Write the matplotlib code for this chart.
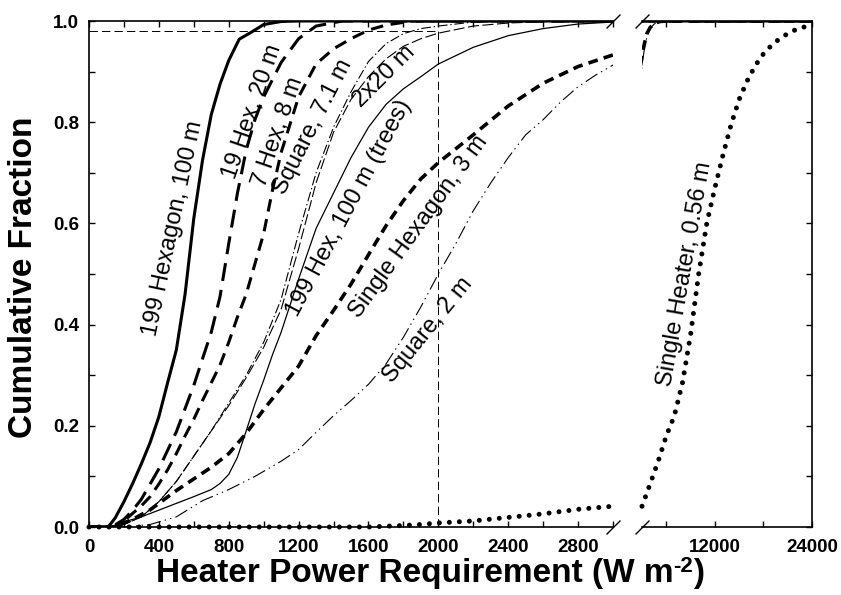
import matplotlib
matplotlib.use("Agg")
import matplotlib.pyplot as plt
from matplotlib.ticker import FixedLocator, MultipleLocator
import numpy as np

plt.rcParams['font.family'] = ['Liberation Sans', 'DejaVu Sans']
plt.rcParams['lines.scale_dashes'] = False

# cumulative distributions of heater power (W m-2)
hex199_x = [0, 110, 150, 200, 250, 300, 350, 400, 450, 500, 550, 600, 650, 700, 750, 800, 860, 930, 1000, 1100, 1200, 24000]
hex199_y = [0, 0, 0.018, 0.05, 0.086, 0.125, 0.167, 0.218, 0.285, 0.35, 0.46, 0.61, 0.725, 0.815, 0.875, 0.922, 0.964, 0.978, 0.993, 0.999, 1.0, 1.0]

hex19_x = [0, 130, 200, 250, 300, 400, 500, 600, 700, 750, 800, 850, 900, 950, 1000, 1100, 1200, 1300, 1450, 24000]
hex19_y = [0, 0, 0.015, 0.033, 0.055, 0.115, 0.188, 0.28, 0.385, 0.455, 0.56, 0.66, 0.745, 0.805, 0.85, 0.918, 0.965, 0.99, 1.0, 1.0]

hex7_x = [0, 140, 200, 250, 300, 350, 400, 450, 500, 550, 600, 650, 700, 750, 800, 850, 900, 950, 1000, 1050, 1100, 1200, 1300, 1400, 1500, 1600, 1700, 1850, 24000]
hex7_y = [0, 0, 0.012, 0.027, 0.042, 0.06, 0.085, 0.113, 0.145, 0.18, 0.213, 0.25, 0.285, 0.32, 0.365, 0.415, 0.46, 0.52, 0.58, 0.665, 0.74, 0.85, 0.915, 0.945, 0.965, 0.982, 0.992, 1.0, 1.0]

sq71_x = [0, 150, 200, 300, 400, 500, 600, 700, 800, 900, 1000, 1100, 1200, 1300, 1400, 1500, 1600, 1700, 1800, 1900, 2000, 2200, 2500, 24000]
sq71_y = [0, 0, 0.005, 0.02, 0.05, 0.09, 0.14, 0.19, 0.245, 0.3, 0.365, 0.45, 0.58, 0.7, 0.79, 0.86, 0.92, 0.955, 0.975, 0.985, 0.99, 0.998, 1.0, 1.0]

two20_x = [0, 150, 200, 300, 400, 500, 600, 700, 800, 900, 1000, 1100, 1200, 1300, 1400, 1500, 1600, 1700, 1800, 1900, 2000, 2200, 2400, 2700, 24000]
two20_y = [0, 0, 0.005, 0.02, 0.05, 0.09, 0.14, 0.19, 0.24, 0.295, 0.355, 0.43, 0.55, 0.68, 0.78, 0.845, 0.89, 0.925, 0.95, 0.965, 0.976, 0.99, 0.996, 1.0, 1.0]

trees_x = [0, 130, 200, 300, 450, 600, 700, 750, 800, 850, 900, 950, 1000, 1050, 1100, 1200, 1300, 1400, 1500, 1600, 1700, 1800, 1900, 2000, 2200, 2400, 2600, 2800, 3000, 3400, 24000]
trees_y = [0, 0, 0.01, 0.02, 0.04, 0.06, 0.074, 0.086, 0.104, 0.138, 0.19, 0.243, 0.29, 0.34, 0.385, 0.49, 0.59, 0.66, 0.73, 0.79, 0.835, 0.866, 0.89, 0.915, 0.948, 0.971, 0.985, 0.994, 0.998, 1.0, 1.0]

hex1_x = [0, 140, 250, 350, 500, 600, 700, 800, 900, 1000, 1100, 1200, 1300, 1400, 1500, 1600, 1700, 1800, 1900, 2000, 2200, 2400, 2600, 2800, 3000, 3300, 3600, 4000, 4500, 5200, 6000, 24000]
hex1_y = [0, 0, 0.015, 0.034, 0.072, 0.095, 0.118, 0.145, 0.185, 0.232, 0.275, 0.318, 0.378, 0.428, 0.48, 0.538, 0.595, 0.645, 0.688, 0.72, 0.775, 0.832, 0.877, 0.91, 0.933, 0.955, 0.975, 0.987, 0.995, 0.999, 1.0, 1.0]

sq2_x = [0, 200, 350, 500, 650, 800, 950, 1100, 1200, 1300, 1400, 1500, 1600, 1700, 1800, 1900, 2000, 2100, 2200, 2300, 2400, 2500, 2600, 2700, 2800, 2900, 3000, 3300, 3600, 4000, 4500, 5000, 5500, 24000]
sq2_y = [0, 0, 0.005, 0.02, 0.052, 0.074, 0.1, 0.13, 0.153, 0.187, 0.22, 0.25, 0.282, 0.322, 0.375, 0.435, 0.5, 0.56, 0.625, 0.68, 0.73, 0.775, 0.805, 0.84, 0.87, 0.893, 0.913, 0.945, 0.968, 0.985, 0.994, 0.998, 1.0, 1.0]

heater_x = np.array([0, 1600, 1800, 1900, 2000, 2200, 2400, 2600, 2800, 3000, 4000, 5000, 6000, 7000, 8000, 9000, 10000, 11000, 12000, 13000, 14000, 15000, 16000, 17000, 18000, 19000, 20000, 21000, 22000, 23000, 24000])
heater_y = np.array([0, 0, 0.003, 0.005, 0.008, 0.012, 0.019, 0.026, 0.035, 0.041, 0.085, 0.13, 0.18, 0.22, 0.285, 0.38, 0.5, 0.6, 0.67, 0.735, 0.795, 0.845, 0.882, 0.912, 0.935, 0.952, 0.965, 0.975, 0.983, 0.988, 0.992])

# label text, centre (data units of left axes), rotation
labels = [
    ("199 Hexagon, 100 m", 480, 0.59, 78),
    ("19 Hex, 20 m", 935, 0.82, 71),
    ("7 Hex, 8 m", 1085, 0.78, 71),
    ("Square, 7.1 m", 1280, 0.79, 63),
    ("2x20 m", 1690, 0.89, 45),
    ("199 Hex, 100 m (trees)", 1490, 0.63, 62),
    ("Single Hexagon, 3 m", 1890, 0.593, 54),
    ("Square, 2 m", 1940, 0.39, 51),
]
heater_label = ("Single Heater, 0.56 m", 8300, 0.50, 80)

styles = [
    (hex199_x, hex199_y, dict(color='black', lw=2.2, ls='-')),
    (hex19_x, hex19_y, dict(color='black', lw=2.2, ls=(0, (13, 6.5)))),
    (hex7_x, hex7_y, dict(color='black', lw=2.2, ls=(0, (9, 5.5)))),
    (sq71_x, sq71_y, dict(color='black', lw=0.8, ls=(0, (7, 2, 1, 2)))),
    (two20_x, two20_y, dict(color='black', lw=0.8, ls=(0, (8, 2.5)))),
    (trees_x, trees_y, dict(color='black', lw=0.9, ls='-')),
    (hex1_x, hex1_y, dict(color='black', lw=2.6, ls=(0, (7, 4.5)))),
    (sq2_x, sq2_y, dict(color='black', lw=0.8, ls=(0, (10, 3, 1, 3, 1, 3)))),
]
dot_style = dict(color='black', lw=3.6, ls=(0, (0.01, 7.2)), dash_capstyle='round')

fig = plt.figure(figsize=(8.41, 5.95), dpi=100)
ax1 = fig.add_axes([89 / 841, 68 / 595, 524 / 841, 506 / 595])
ax2 = fig.add_axes([642 / 841, 68 / 595, 170 / 841, 506 / 595])

for ax in (ax1, ax2):
    for x, y, st in styles:
        ax.plot(x, y, **st)

# single heater drawn unclipped so dots sit on the axis line
left = heater_x <= 3000
right = heater_x >= 3000
ax1.plot(heater_x[left], heater_y[left], clip_on=False, **dot_style)
ax2.plot(heater_x[right], heater_y[right], clip_on=False, **dot_style)

# 98 % / 2000 W m-2 guide lines
ax1.plot([0, 2000], [0.98, 0.98], color='black', lw=0.7, ls=(0, (6, 3)), zorder=1)
ax1.plot([2000, 2000], [0, 0.98], color='black', lw=0.7, ls=(0, (6, 3)), zorder=1)

ax1.set_xlim(0, 3000)
ax2.set_xlim(3000, 24000)
for ax in (ax1, ax2):
    ax.set_ylim(0, 1.0)
    for s in ax.spines.values():
        s.set_linewidth(1.2)
    ax.tick_params(which='both', direction='in', length=4.5, width=1.0, top=True,
                   labelsize=13.5, pad=9)

ax1.spines['right'].set_visible(False)
ax2.spines['left'].set_visible(False)

ax1.xaxis.set_minor_locator(MultipleLocator(200))
ax1.yaxis.set_minor_locator(MultipleLocator(0.1))
ax1.set_xticks(np.arange(0, 3000, 400))
ax1.set_yticks(np.arange(0, 1.01, 0.2))
ax1.set_yticklabels([f"{v:.1f}" for v in ax1.get_yticks()])
ax1.tick_params(right=False, axis='y', pad=7)

ax2.xaxis.set_major_locator(FixedLocator([12000, 24000]))
ax2.xaxis.set_minor_locator(FixedLocator([6000, 18000]))
ax2.yaxis.set_major_locator(MultipleLocator(0.1))
ax2.tick_params(axis='y', left=False, right=True, labelleft=False)

for ax in (ax1, ax2):
    for lab in ax.get_xticklabels() + ax.get_yticklabels():
        lab.set_fontweight('bold')

# axis break marks
brk = dict(marker=[(-1, -1), (1, 1)], markersize=10, linestyle='none',
           color='black', mec='black', mew=1.0, clip_on=False)
ax1.plot([1, 1], [0, 1], transform=ax1.transAxes, **brk)
ax2.plot([0, 0], [0, 1], transform=ax2.transAxes, **brk)

for text, x, y, rot in labels:
    ax1.text(x, y, text, rotation=rot, rotation_mode='anchor', ha='center', va='center', fontsize=17)
t, x, y, rot = heater_label
ax2.text(x, y, t, rotation=rot, rotation_mode='anchor', ha='center', va='center', fontsize=17)

# x label with a hyphen superscript, assembled from three pieces
W, H = 841, 595
cx, base = 430, 582
r = fig.canvas.get_renderer()
parts = [('Heater Power Requirement (W m', 24, 0), ('-2', 16, 10), (')', 24, 0)]
pieces = [fig.text(0, 0, s, fontsize=fs, fontweight='bold', va='baseline') for s, fs, _ in parts]
widths = [p.get_window_extent(r).width for p in pieces]
x0 = cx - sum(widths) / 2
for p, (s, fs, dy), w in zip(pieces, parts, widths):
    p.set_position((x0 / W, (H - base + dy) / H))
    x0 += w

fig.text(24 / W, 1 - 277 / H, 'Cumulative Fraction', rotation=90,
         ha='center', va='center', fontsize=24, fontweight='bold')

fig.savefig('out.png', dpi=100)
